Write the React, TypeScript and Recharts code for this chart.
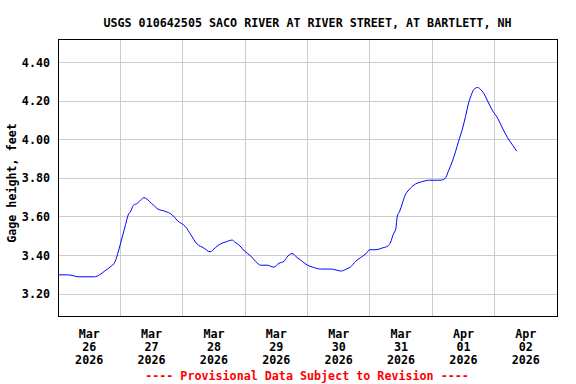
import {
  CartesianGrid,
  Line,
  LineChart,
  ReferenceArea,
  XAxis,
  YAxis,
} from "recharts";

// hours since Mar 26 2026 00:00
const hours = [
  -12, -8, -4, 2, 4, 6, 8, 10, 11, 12, 13, 14, 15, 16, 17, 18.5, 20, 21, 24,
  26.5, 29, 32, 34, 37, 39, 41.5, 44, 46.5, 48.5, 50.5, 52.5, 55, 56, 58, 60,
  62, 64, 66, 68.5, 71, 73, 75, 76, 78, 80, 82, 84, 86, 89, 93, 97, 99, 100.5,
  102.5, 104.5, 106.5, 108, 110, 113, 115, 116, 117, 118, 118.5, 119.5, 120.5,
  121.5, 123, 124.5, 125.5, 127.5, 131, 135, 137, 138.3, 139.8, 141, 142.1,
  143.7, 144.8, 146, 147, 148, 149.5, 150.6, 151.8, 153.3, 155.2, 157.2, 159,
  161, 163, 164.5,
];

const gage = [
  3.3, 3.3, 3.29, 3.29, 3.3, 3.32, 3.34, 3.37, 3.41, 3.46, 3.51, 3.56, 3.61,
  3.63, 3.66, 3.67, 3.69, 3.7, 3.67, 3.64, 3.63, 3.61, 3.58, 3.55, 3.51, 3.46,
  3.44, 3.42, 3.44, 3.46, 3.47, 3.48, 3.47, 3.45, 3.42, 3.4, 3.37, 3.35, 3.35,
  3.34, 3.36, 3.37, 3.39, 3.41, 3.39, 3.37, 3.35, 3.34, 3.33, 3.33, 3.32, 3.33,
  3.34, 3.37, 3.39, 3.41, 3.43, 3.43, 3.44, 3.45, 3.47, 3.51, 3.54, 3.6, 3.63,
  3.67, 3.71, 3.74, 3.76, 3.77, 3.78, 3.79, 3.79, 3.8, 3.84, 3.89, 3.94, 3.99,
  4.06, 4.12, 4.19, 4.23, 4.26, 4.27, 4.26, 4.24, 4.2, 4.15, 4.11, 4.06, 4.01,
  3.97, 3.94,
];

const dayTicks = [0, 24, 48, 72, 96, 120, 144, 168];
const dayMonths = ["Mar", "Mar", "Mar", "Mar", "Mar", "Mar", "Apr", "Apr"];
const dayNums = ["26", "27", "28", "29", "30", "31", "01", "02"];
const gridHours = [12, 36, 60, 84, 108, 132, 156];
const yTicks = [3.2, 3.4, 3.6, 3.8, 4.0, 4.2, 4.4];

const xDomain: [number, number] = [-12, 180];
const yDomain: [number, number] = [3.087, 4.521];

const data = hours.map((t, i) => ({ t, gage: gage[i] }));

const font = "'DejaVu Sans Mono', monospace";
const fs = 11.7;

function DayTick({ x, y, payload }: any) {
  const i = dayTicks.indexOf(payload.value);
  return (
    <text
      x={x}
      y={y}
      textAnchor="middle"
      fontFamily={font}
      fontSize={fs}
      fontWeight="bold"
      fill="#000"
    >
      <tspan x={x} dy={20}>{dayMonths[i]}</tspan>
      <tspan x={x} dy={13}>{dayNums[i]}</tspan>
      <tspan x={x} dy={13}>2026</tspan>
    </text>
  );
}

export default function App() {
  return (
    <div style={{ position: "absolute", left: 0, top: 0, width: 576, height: 384, background: "#fff" }}>
      <LineChart
        width={576}
        height={384}
        data={data}
        margin={{ top: 39, right: 19, bottom: 0, left: 0 }}
      >
        <CartesianGrid
          xAxisId="grid"
          stroke="#cccccc"
          shapeRendering="crispEdges"
        />
        <XAxis
          dataKey="t"
          type="number"
          domain={xDomain}
          ticks={dayTicks}
          allowDataOverflow
          height={68}
          axisLine={false}
          tickLine={false}
          tickSize={0}
          tick={<DayTick />}
          interval={0}
        />
        <XAxis
          xAxisId="grid"
          dataKey="t"
          type="number"
          domain={xDomain}
          ticks={gridHours}
          allowDataOverflow
          hide
        />
        <YAxis
          type="number"
          domain={yDomain}
          ticks={yTicks}
          allowDataOverflow
          width={58}
          axisLine={false}
          tickLine={false}
          tickSize={0}
          tickMargin={8}
          interval={0}
          tickFormatter={(v: number) => v.toFixed(2)}
          tick={{ fontFamily: font, fontSize: fs, fontWeight: "bold", fill: "#000" }}
        />
        <ReferenceArea
          x1={xDomain[0]}
          x2={xDomain[1]}
          y1={yDomain[0]}
          y2={yDomain[1]}
          fill="none"
          fillOpacity={0}
          stroke="#000"
          strokeWidth={1}
          shapeRendering="crispEdges"
        />
        <Line
          type="monotone"
          dataKey="gage"
          stroke="#0000ff"
          strokeWidth={1}
          dot={false}
          isAnimationActive={false}
        />
      </LineChart>
      <svg
        width={576}
        height={384}
        style={{ position: "absolute", left: 0, top: 0, pointerEvents: "none" }}
      >
        <text x={307.5} y={27} textAnchor="middle" fontFamily={font} fontSize={fs} fontWeight="bold" fill="#000">
          USGS 010642505 SACO RIVER AT RIVER STREET, AT BARTLETT, NH
        </text>
        <text
          transform="translate(16,183) rotate(-90)"
          textAnchor="middle"
          fontFamily={font}
          fontSize={fs}
          fontWeight="bold"
          fill="#000"
        >
          Gage height, feet
        </text>
        <text x={307} y={380} textAnchor="middle" fontFamily={font} fontSize={fs} fontWeight="bold" fill="#ff0000">
          ---- Provisional Data Subject to Revision ----
        </text>
      </svg>
    </div>
  );
}
